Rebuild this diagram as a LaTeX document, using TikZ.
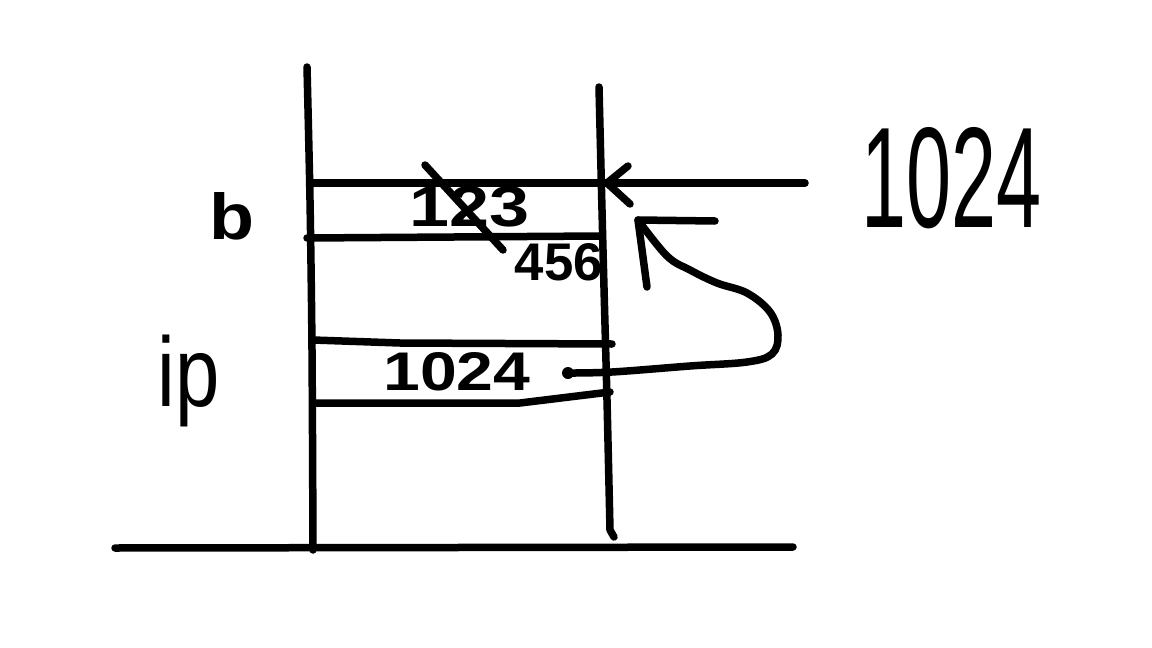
\documentclass[tikz,border=0pt]{standalone}
\usepackage{fontspec}
\setmainfont{Liberation Sans}
\usepackage{graphicx}
\begin{document}
\begin{tikzpicture}[x=1pt,y=-1pt,
  ink/.style={line width=7.5pt,line cap=round,line join=round,black},
  lbl/.style={inner sep=0pt,outer sep=0pt,font=\bfseries},
  biglbl/.style={inner sep=0pt,outer sep=0pt,font=\mdseries}]
\useasboundingbox[fill=white] (0,0) rectangle (1152,648);
% columns and floor
\draw[ink] plot[smooth] coordinates {(307,67) (310,200) (312,350) (313,550)};
\draw[ink] plot[smooth] coordinates {(599,87) (603,250) (607,400) (610,530)} -- (614,537);
\draw[ink] (115,548) -- (793,547);
% stack rows
\draw[ink] (313,183) -- (805,183);
\draw[ink] (307,238) -- (600,236);
\draw[ink] (313,340) -- (400,343) -- (612,344);
\draw[ink] (313,403) -- (520,403) -- (610,392);
% arrow head on top line
\coordinate (tipA) at (607,183);
\draw[ink] (628,166) -- (tipA) -- (630,204);
% diagonal stroke through 123
\coordinate (d1) at (425,165);
\coordinate (d2) at (503,250);
\draw[ink] (d1) -- (d2);
% labels
\node[lbl] (b) at (232,216) {\resizebox{45pt}{47pt}{b}};
\node[biglbl] (ip) at (189,381) {\resizebox*{62pt}{92pt}{ip}};
\node[lbl] (n123) at (470,207) {\resizebox{120pt}{40pt}{123}};
\node[lbl] (n456) at (559,262) {\resizebox{88pt}{37pt}{456}};
\node[lbl] (n1024) at (457,372) {\resizebox{147pt}{38pt}{1024}};
\node[biglbl] (big) at (952,178) {\resizebox{180pt}{100pt}{1024}};
% pointer from 1024 back up
\coordinate (dot) at (568,373);
\coordinate (tipB) at (638,220);
\fill (dot) circle (6pt);
\draw[ink] plot[smooth,tension=0.6] coordinates {(dot) (612,372) (690,366) (747,362) (772,354) (778,335) (770,312) (747,293) (717,283) (690,270) (667,256) (tipB)};
\draw[ink] (715,221) -- (tipB) -- (647,287);
\end{tikzpicture}
\end{document}
